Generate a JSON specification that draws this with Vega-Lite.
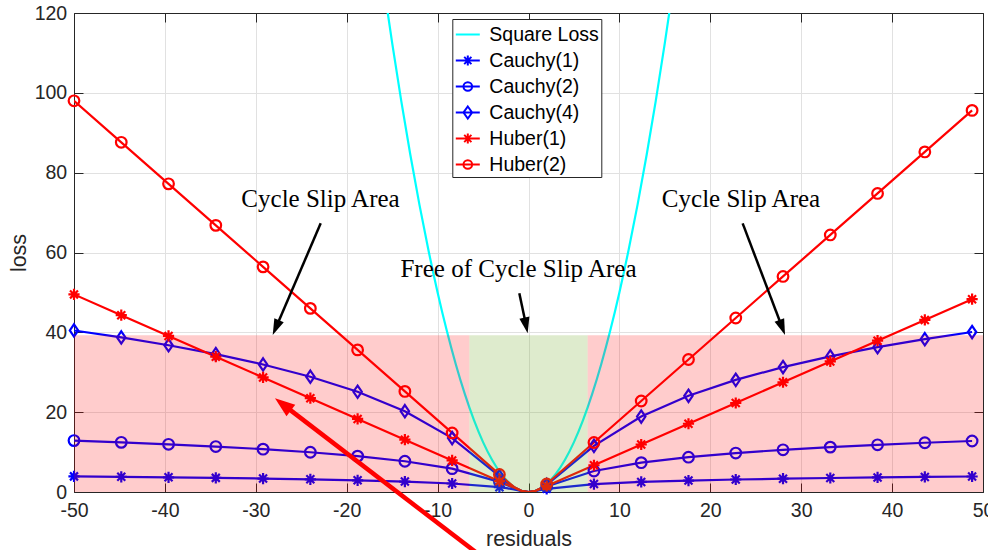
{
  "$schema": "https://vega.github.io/schema/vega-lite/v6.json",
  "autosize": {"type": "none"},
  "width": 909,
  "height": 479,
  "padding": {"left": 74, "top": 13, "right": 5, "bottom": 58},
  "background": "white",
  "datasets": {
    "loss": [
      {"series": "Square Loss", "x": -16, "y": 128, "sampled": false},
      {"series": "Square Loss", "x": -15, "y": 112.5, "sampled": false},
      {"series": "Square Loss", "x": -14, "y": 98, "sampled": false},
      {"series": "Square Loss", "x": -13, "y": 84.5, "sampled": false},
      {"series": "Square Loss", "x": -12, "y": 72, "sampled": false},
      {"series": "Square Loss", "x": -11, "y": 60.5, "sampled": false},
      {"series": "Square Loss", "x": -10, "y": 50, "sampled": false},
      {"series": "Square Loss", "x": -9, "y": 40.5, "sampled": false},
      {"series": "Square Loss", "x": -8, "y": 32, "sampled": false},
      {"series": "Square Loss", "x": -7, "y": 24.5, "sampled": false},
      {"series": "Square Loss", "x": -6, "y": 18, "sampled": false},
      {"series": "Square Loss", "x": -5, "y": 12.5, "sampled": false},
      {"series": "Square Loss", "x": -4, "y": 8, "sampled": false},
      {"series": "Square Loss", "x": -3, "y": 4.5, "sampled": false},
      {"series": "Square Loss", "x": -2, "y": 2, "sampled": false},
      {"series": "Square Loss", "x": -1, "y": 0.5, "sampled": false},
      {"series": "Square Loss", "x": 0, "y": 0, "sampled": false},
      {"series": "Square Loss", "x": 1, "y": 0.5, "sampled": false},
      {"series": "Square Loss", "x": 2, "y": 2, "sampled": false},
      {"series": "Square Loss", "x": 3, "y": 4.5, "sampled": false},
      {"series": "Square Loss", "x": 4, "y": 8, "sampled": false},
      {"series": "Square Loss", "x": 5, "y": 12.5, "sampled": false},
      {"series": "Square Loss", "x": 6, "y": 18, "sampled": false},
      {"series": "Square Loss", "x": 7, "y": 24.5, "sampled": false},
      {"series": "Square Loss", "x": 8, "y": 32, "sampled": false},
      {"series": "Square Loss", "x": 9, "y": 40.5, "sampled": false},
      {"series": "Square Loss", "x": 10, "y": 50, "sampled": false},
      {"series": "Square Loss", "x": 11, "y": 60.5, "sampled": false},
      {"series": "Square Loss", "x": 12, "y": 72, "sampled": false},
      {"series": "Square Loss", "x": 13, "y": 84.5, "sampled": false},
      {"series": "Square Loss", "x": 14, "y": 98, "sampled": false},
      {"series": "Square Loss", "x": 15, "y": 112.5, "sampled": false},
      {"series": "Square Loss", "x": 16, "y": 128, "sampled": false},

      {"series": "Cauchy(1)", "x": -50, "y": 3.912, "sampled": true},
      {"series": "Cauchy(1)", "x": -44.8, "y": 3.802, "sampled": true},
      {"series": "Cauchy(1)", "x": -39.6, "y": 3.679, "sampled": true},
      {"series": "Cauchy(1)", "x": -34.4, "y": 3.538, "sampled": true},
      {"series": "Cauchy(1)", "x": -29.2, "y": 3.375, "sampled": true},
      {"series": "Cauchy(1)", "x": -24, "y": 3.179, "sampled": true},
      {"series": "Cauchy(1)", "x": -18.8, "y": 2.935, "sampled": true},
      {"series": "Cauchy(1)", "x": -13.6, "y": 2.613, "sampled": true},
      {"series": "Cauchy(1)", "x": -8.4, "y": 2.135, "sampled": true},
      {"series": "Cauchy(1)", "x": -3.2, "y": 1.21, "sampled": true},
      {"series": "Cauchy(1)", "x": -2.4, "y": 0.956, "sampled": false},
      {"series": "Cauchy(1)", "x": -1.6, "y": 0.635, "sampled": false},
      {"series": "Cauchy(1)", "x": -0.8, "y": 0.247, "sampled": false},
      {"series": "Cauchy(1)", "x": 0, "y": 0, "sampled": false},
      {"series": "Cauchy(1)", "x": 0.8, "y": 0.247, "sampled": false},
      {"series": "Cauchy(1)", "x": 1.6, "y": 0.635, "sampled": false},
      {"series": "Cauchy(1)", "x": 2, "y": 0.805, "sampled": true},
      {"series": "Cauchy(1)", "x": 7.2, "y": 1.984, "sampled": true},
      {"series": "Cauchy(1)", "x": 12.4, "y": 2.521, "sampled": true},
      {"series": "Cauchy(1)", "x": 17.6, "y": 2.87, "sampled": true},
      {"series": "Cauchy(1)", "x": 22.8, "y": 3.128, "sampled": true},
      {"series": "Cauchy(1)", "x": 28, "y": 3.333, "sampled": true},
      {"series": "Cauchy(1)", "x": 33.2, "y": 3.503, "sampled": true},
      {"series": "Cauchy(1)", "x": 38.4, "y": 3.648, "sampled": true},
      {"series": "Cauchy(1)", "x": 43.6, "y": 3.775, "sampled": true},
      {"series": "Cauchy(1)", "x": 48.8, "y": 3.888, "sampled": true},

      {"series": "Cauchy(2)", "x": -50, "y": 12.879, "sampled": true},
      {"series": "Cauchy(2)", "x": -44.8, "y": 12.44, "sampled": true},
      {"series": "Cauchy(2)", "x": -39.6, "y": 11.948, "sampled": true},
      {"series": "Cauchy(2)", "x": -34.4, "y": 11.386, "sampled": true},
      {"series": "Cauchy(2)", "x": -29.2, "y": 10.733, "sampled": true},
      {"series": "Cauchy(2)", "x": -24, "y": 9.953, "sampled": true},
      {"series": "Cauchy(2)", "x": -18.8, "y": 8.985, "sampled": true},
      {"series": "Cauchy(2)", "x": -13.6, "y": 7.71, "sampled": true},
      {"series": "Cauchy(2)", "x": -8.4, "y": 5.851, "sampled": true},
      {"series": "Cauchy(2)", "x": -3.2, "y": 2.54, "sampled": true},
      {"series": "Cauchy(2)", "x": -2.4, "y": 1.784, "sampled": false},
      {"series": "Cauchy(2)", "x": -1.6, "y": 0.989, "sampled": false},
      {"series": "Cauchy(2)", "x": -0.8, "y": 0.297, "sampled": false},
      {"series": "Cauchy(2)", "x": 0, "y": 0, "sampled": false},
      {"series": "Cauchy(2)", "x": 0.8, "y": 0.297, "sampled": false},
      {"series": "Cauchy(2)", "x": 1.6, "y": 0.989, "sampled": false},
      {"series": "Cauchy(2)", "x": 2, "y": 1.386, "sampled": true},
      {"series": "Cauchy(2)", "x": 7.2, "y": 5.272, "sampled": true},
      {"series": "Cauchy(2)", "x": 12.4, "y": 7.35, "sampled": true},
      {"series": "Cauchy(2)", "x": 17.6, "y": 8.725, "sampled": true},
      {"series": "Cauchy(2)", "x": 22.8, "y": 9.75, "sampled": true},
      {"series": "Cauchy(2)", "x": 28, "y": 10.566, "sampled": true},
      {"series": "Cauchy(2)", "x": 33.2, "y": 11.245, "sampled": true},
      {"series": "Cauchy(2)", "x": 38.4, "y": 11.825, "sampled": true},
      {"series": "Cauchy(2)", "x": 43.6, "y": 12.332, "sampled": true},
      {"series": "Cauchy(2)", "x": 48.8, "y": 12.782, "sampled": true},

      {"series": "Cauchy(4)", "x": -50, "y": 40.463, "sampled": true},
      {"series": "Cauchy(4)", "x": -44.8, "y": 38.718, "sampled": true},
      {"series": "Cauchy(4)", "x": -39.6, "y": 36.762, "sampled": true},
      {"series": "Cauchy(4)", "x": -34.4, "y": 34.536, "sampled": true},
      {"series": "Cauchy(4)", "x": -29.2, "y": 31.955, "sampled": true},
      {"series": "Cauchy(4)", "x": -24, "y": 28.887, "sampled": true},
      {"series": "Cauchy(4)", "x": -18.8, "y": 25.115, "sampled": true},
      {"series": "Cauchy(4)", "x": -13.6, "y": 20.244, "sampled": true},
      {"series": "Cauchy(4)", "x": -8.4, "y": 13.506, "sampled": true},
      {"series": "Cauchy(4)", "x": -3.2, "y": 3.958, "sampled": true},
      {"series": "Cauchy(4)", "x": -2.4, "y": 2.46, "sampled": false},
      {"series": "Cauchy(4)", "x": -1.6, "y": 1.187, "sampled": false},
      {"series": "Cauchy(4)", "x": -0.8, "y": 0.314, "sampled": false},
      {"series": "Cauchy(4)", "x": 0, "y": 0, "sampled": false},
      {"series": "Cauchy(4)", "x": 0.8, "y": 0.314, "sampled": false},
      {"series": "Cauchy(4)", "x": 1.6, "y": 1.187, "sampled": false},
      {"series": "Cauchy(4)", "x": 2, "y": 1.785, "sampled": true},
      {"series": "Cauchy(4)", "x": 7.2, "y": 11.557, "sampled": true},
      {"series": "Cauchy(4)", "x": 12.4, "y": 18.894, "sampled": true},
      {"series": "Cauchy(4)", "x": 17.6, "y": 24.109, "sampled": true},
      {"series": "Cauchy(4)", "x": 22.8, "y": 28.09, "sampled": true},
      {"series": "Cauchy(4)", "x": 28, "y": 31.296, "sampled": true},
      {"series": "Cauchy(4)", "x": 33.2, "y": 33.975, "sampled": true},
      {"series": "Cauchy(4)", "x": 38.4, "y": 36.275, "sampled": true},
      {"series": "Cauchy(4)", "x": 43.6, "y": 38.287, "sampled": true},
      {"series": "Cauchy(4)", "x": 48.8, "y": 40.077, "sampled": true},

      {"series": "Huber(1)", "x": -50, "y": 49.5, "sampled": true},
      {"series": "Huber(1)", "x": -44.8, "y": 44.3, "sampled": true},
      {"series": "Huber(1)", "x": -39.6, "y": 39.1, "sampled": true},
      {"series": "Huber(1)", "x": -34.4, "y": 33.9, "sampled": true},
      {"series": "Huber(1)", "x": -29.2, "y": 28.7, "sampled": true},
      {"series": "Huber(1)", "x": -24, "y": 23.5, "sampled": true},
      {"series": "Huber(1)", "x": -18.8, "y": 18.3, "sampled": true},
      {"series": "Huber(1)", "x": -13.6, "y": 13.1, "sampled": true},
      {"series": "Huber(1)", "x": -8.4, "y": 7.9, "sampled": true},
      {"series": "Huber(1)", "x": -3.2, "y": 2.7, "sampled": true},
      {"series": "Huber(1)", "x": -2.4, "y": 1.9, "sampled": false},
      {"series": "Huber(1)", "x": -1.6, "y": 1.1, "sampled": false},
      {"series": "Huber(1)", "x": -0.8, "y": 0.32, "sampled": false},
      {"series": "Huber(1)", "x": 0, "y": 0, "sampled": false},
      {"series": "Huber(1)", "x": 0.8, "y": 0.32, "sampled": false},
      {"series": "Huber(1)", "x": 1.6, "y": 1.1, "sampled": false},
      {"series": "Huber(1)", "x": 2, "y": 1.5, "sampled": true},
      {"series": "Huber(1)", "x": 7.2, "y": 6.7, "sampled": true},
      {"series": "Huber(1)", "x": 12.4, "y": 11.9, "sampled": true},
      {"series": "Huber(1)", "x": 17.6, "y": 17.1, "sampled": true},
      {"series": "Huber(1)", "x": 22.8, "y": 22.3, "sampled": true},
      {"series": "Huber(1)", "x": 28, "y": 27.5, "sampled": true},
      {"series": "Huber(1)", "x": 33.2, "y": 32.7, "sampled": true},
      {"series": "Huber(1)", "x": 38.4, "y": 37.9, "sampled": true},
      {"series": "Huber(1)", "x": 43.6, "y": 43.1, "sampled": true},
      {"series": "Huber(1)", "x": 48.8, "y": 48.3, "sampled": true},

      {"series": "Huber(2)", "x": -50, "y": 98, "sampled": true},
      {"series": "Huber(2)", "x": -44.8, "y": 87.6, "sampled": true},
      {"series": "Huber(2)", "x": -39.6, "y": 77.2, "sampled": true},
      {"series": "Huber(2)", "x": -34.4, "y": 66.8, "sampled": true},
      {"series": "Huber(2)", "x": -29.2, "y": 56.4, "sampled": true},
      {"series": "Huber(2)", "x": -24, "y": 46, "sampled": true},
      {"series": "Huber(2)", "x": -18.8, "y": 35.6, "sampled": true},
      {"series": "Huber(2)", "x": -13.6, "y": 25.2, "sampled": true},
      {"series": "Huber(2)", "x": -8.4, "y": 14.8, "sampled": true},
      {"series": "Huber(2)", "x": -3.2, "y": 4.4, "sampled": true},
      {"series": "Huber(2)", "x": -2.4, "y": 2.8, "sampled": false},
      {"series": "Huber(2)", "x": -1.6, "y": 1.28, "sampled": false},
      {"series": "Huber(2)", "x": -0.8, "y": 0.32, "sampled": false},
      {"series": "Huber(2)", "x": 0, "y": 0, "sampled": false},
      {"series": "Huber(2)", "x": 0.8, "y": 0.32, "sampled": false},
      {"series": "Huber(2)", "x": 1.6, "y": 1.28, "sampled": false},
      {"series": "Huber(2)", "x": 2, "y": 2, "sampled": true},
      {"series": "Huber(2)", "x": 7.2, "y": 12.4, "sampled": true},
      {"series": "Huber(2)", "x": 12.4, "y": 22.8, "sampled": true},
      {"series": "Huber(2)", "x": 17.6, "y": 33.2, "sampled": true},
      {"series": "Huber(2)", "x": 22.8, "y": 43.6, "sampled": true},
      {"series": "Huber(2)", "x": 28, "y": 54, "sampled": true},
      {"series": "Huber(2)", "x": 33.2, "y": 64.4, "sampled": true},
      {"series": "Huber(2)", "x": 38.4, "y": 74.8, "sampled": true},
      {"series": "Huber(2)", "x": 43.6, "y": 85.2, "sampled": true},
      {"series": "Huber(2)", "x": 48.8, "y": 95.6, "sampled": true}
    ],
    "zones": [
      {"zone": "slip", "x": -50, "x2": -6.5, "y": 0, "y2": 39.3},
      {"zone": "free", "x": -6.5, "x2": 6.5, "y": 0, "y2": 39.3},
      {"zone": "slip", "x": 6.5, "x2": 50, "y": 0, "y2": 39.3}
    ],
    "arrows": [
      {"id": "a1", "x": -22.86, "y": 67.3, "x2": -27.79, "y2": 41.17, "tx": -28.14, "ty": 39.33},
      {"id": "a2", "x": 23.56, "y": 67.3, "x2": 27.91, "y2": 41.2, "tx": 28.22, "ty": 39.33},
      {"id": "a3", "x": -1.01, "y": 49.78, "x2": -0.26, "y2": 41.71, "tx": -0.09, "ty": 39.76},
      {"id": "r", "x": -4.69, "y": -17, "x2": -27.02, "y2": 21.95, "tx": -27.89, "ty": 23.47}
    ],
    "notes": [
      {"label": "Cycle Slip Area", "x": -22.88, "y": 71.4},
      {"label": "Cycle Slip Area", "x": 23.38, "y": 71.4},
      {"label": "Free of Cycle Slip Area", "x": -1.1, "y": 53.86}
    ]
  },
  "resolve": {"axis": {"x": "independent", "y": "independent"}},
  "layer": [
    {
      "layer": [
        {
          "data": {"name": "loss"},
          "transform": [{"filter": "datum.series === 'Square Loss'"}],
          "mark": {"type": "line", "clip": true, "strokeWidth": 2.2, "interpolate": "monotone"},
          "encoding": {
            "x": {"field": "x", "type": "quantitative",
              "scale": {"domain": [-50, 50], "nice": false, "zero": false},
              "axis": {"orient": "bottom", "values": [-50, -40, -30, -20, -10, 0, 10, 20, 30, 40, 50],
                "labelExpr": "'' + datum.value", "labelFlush": false, "labelOverlap": false,
                "title": "residuals", "grid": true, "tickSize": -9, "labelPadding": 18.3,
                "titleX": 454.5, "titleY": 53, "titleBaseline": "alphabetic"}},
            "y": {"field": "y", "type": "quantitative",
              "scale": {"domain": [0, 120], "nice": false, "zero": false},
              "axis": {"orient": "left", "values": [0, 20, 40, 60, 80, 100, 120],
                "labelExpr": "'' + datum.value", "labelOverlap": false,
                "title": "loss", "grid": true, "tickSize": -9, "labelPadding": 16.3,
                "titleX": -48.3, "titleY": 239.5, "titleBaseline": "alphabetic", "titleAngle": 270}},
            "color": {"field": "series", "type": "nominal",
              "scale": {"domain": ["Square Loss", "Cauchy(1)", "Cauchy(2)", "Cauchy(4)", "Huber(1)", "Huber(2)"],
                "range": ["#00FFFF", "#0000FF", "#0000FF", "#0000FF", "#FF0000", "#FF0000"]},
              "legend": {"title": null}}
          }
        },
        {
          "data": {"name": "loss"},
          "transform": [{"filter": "datum.series !== 'Square Loss'"}],
          "mark": {"type": "line", "clip": true, "strokeWidth": 2.2},
          "encoding": {
            "x": {"field": "x", "type": "quantitative"},
            "y": {"field": "y", "type": "quantitative"},
            "color": {"field": "series", "type": "nominal", "legend": {"title": null}}
          }
        },
        {
          "data": {"name": "loss"},
          "transform": [{"filter": "datum.sampled && datum.series === 'Cauchy(1)'"}],
          "mark": {"type": "point", "filled": false, "opacity": 1, "strokeWidth": 2.2, "size": 196,
            "shape": "M-0.8,0L0.8,0M0,-0.8L0,0.8M-0.57,-0.57L0.57,0.57M-0.57,0.57L0.57,-0.57"},
          "encoding": {
            "x": {"field": "x", "type": "quantitative"},
            "y": {"field": "y", "type": "quantitative"},
            "color": {"field": "series", "type": "nominal", "legend": {"title": null}}
          }
        },
        {
          "data": {"name": "loss"},
          "transform": [{"filter": "datum.sampled && datum.series === 'Cauchy(2)'"}],
          "mark": {"type": "point", "filled": false, "opacity": 1, "strokeWidth": 2.2, "size": 196,
            "shape": "M0.76,0A0.76,0.76,0,1,1,-0.76,0A0.76,0.76,0,1,1,0.76,0Z"},
          "encoding": {
            "x": {"field": "x", "type": "quantitative"},
            "y": {"field": "y", "type": "quantitative"},
            "color": {"field": "series", "type": "nominal", "legend": {"title": null}}
          }
        },
        {
          "data": {"name": "loss"},
          "transform": [{"filter": "datum.sampled && datum.series === 'Cauchy(4)'"}],
          "mark": {"type": "point", "filled": false, "opacity": 1, "strokeWidth": 2.2, "size": 196,
            "shape": "M0,-0.88L0.6,0L0,0.88L-0.6,0Z"},
          "encoding": {
            "x": {"field": "x", "type": "quantitative"},
            "y": {"field": "y", "type": "quantitative"},
            "color": {"field": "series", "type": "nominal", "legend": {"title": null}}
          }
        },
        {
          "data": {"name": "loss"},
          "transform": [{"filter": "datum.sampled && datum.series === 'Huber(1)'"}],
          "mark": {"type": "point", "filled": false, "opacity": 1, "strokeWidth": 2.2, "size": 196,
            "shape": "M-0.8,0L0.8,0M0,-0.8L0,0.8M-0.57,-0.57L0.57,0.57M-0.57,0.57L0.57,-0.57"},
          "encoding": {
            "x": {"field": "x", "type": "quantitative"},
            "y": {"field": "y", "type": "quantitative"},
            "color": {"field": "series", "type": "nominal", "legend": {"title": null}}
          }
        },
        {
          "data": {"name": "loss"},
          "transform": [{"filter": "datum.sampled && datum.series === 'Huber(2)'"}],
          "mark": {"type": "point", "filled": false, "opacity": 1, "strokeWidth": 2.2, "size": 196,
            "shape": "M0.76,0A0.76,0.76,0,1,1,-0.76,0A0.76,0.76,0,1,1,0.76,0Z"},
          "encoding": {
            "x": {"field": "x", "type": "quantitative"},
            "y": {"field": "y", "type": "quantitative"},
            "color": {"field": "series", "type": "nominal", "legend": {"title": null}}
          }
        },
        {
          "data": {"name": "loss"},
          "transform": [{"filter": "datum.x > 1000"}],
          "mark": {"type": "point", "filled": false, "opacity": 1, "strokeWidth": 2},
          "encoding": {
            "x": {"field": "x", "type": "quantitative"},
            "y": {"field": "y", "type": "quantitative"},
            "color": {"field": "series", "type": "nominal", "legend": {"title": null}},
            "shape": {"field": "series", "type": "nominal",
              "scale": {"domain": ["Square Loss", "Cauchy(1)", "Cauchy(2)", "Cauchy(4)", "Huber(1)", "Huber(2)"],
                "range": [
                  "M-1,0L1,0",
                  "M-1,0L1,0M0,-0.42L0,0.42M-0.3,-0.3L0.3,0.3M-0.3,0.3L0.3,-0.3",
                  "M-1,0L1,0M0.36,0A0.36,0.36,0,1,1,-0.36,0A0.36,0.36,0,1,1,0.36,0Z",
                  "M-1,0L1,0M0,-0.5L0.36,0L0,0.5L-0.36,0Z",
                  "M-1,0L1,0M0,-0.42L0,0.42M-0.3,-0.3L0.3,0.3M-0.3,0.3L0.3,-0.3",
                  "M-1,0L1,0M0.36,0A0.36,0.36,0,1,1,-0.36,0A0.36,0.36,0,1,1,0.36,0Z"
                ]},
              "legend": {"title": null}}
          }
        },
        {
          "data": {"name": "arrows"},
          "transform": [{"filter": "datum.id !== 'r'"}],
          "mark": {"type": "rule", "color": "black", "strokeWidth": 2.5, "clip": false},
          "encoding": {
            "x": {"field": "x", "type": "quantitative"},
            "y": {"field": "y", "type": "quantitative"},
            "x2": {"field": "x2"},
            "y2": {"field": "y2"}
          }
        },
        {
          "data": {"name": "arrows"},
          "transform": [{"filter": "datum.id === 'r'"}],
          "mark": {"type": "rule", "color": "#FF0000", "strokeWidth": 4.5, "clip": false},
          "encoding": {
            "x": {"field": "x", "type": "quantitative"},
            "y": {"field": "y", "type": "quantitative"},
            "x2": {"field": "x2"},
            "y2": {"field": "y2"}
          }
        },
        {
          "data": {"name": "arrows"},
          "transform": [{"filter": "datum.id === 'a1'"}],
          "mark": {"type": "point", "shape": "M0,0L-0.32,1L0.32,1Z", "size": 1024, "angle": 203.3,
            "filled": true, "color": "black", "opacity": 1, "strokeWidth": 0, "clip": false},
          "encoding": {
            "x": {"field": "tx", "type": "quantitative"},
            "y": {"field": "ty", "type": "quantitative"}
          }
        },
        {
          "data": {"name": "arrows"},
          "transform": [{"filter": "datum.id === 'a2'"}],
          "mark": {"type": "point", "shape": "M0,0L-0.32,1L0.32,1Z", "size": 1024, "angle": 159.3,
            "filled": true, "color": "black", "opacity": 1, "strokeWidth": 0, "clip": false},
          "encoding": {
            "x": {"field": "tx", "type": "quantitative"},
            "y": {"field": "ty", "type": "quantitative"}
          }
        },
        {
          "data": {"name": "arrows"},
          "transform": [{"filter": "datum.id === 'a3'"}],
          "mark": {"type": "point", "shape": "M0,0L-0.32,1L0.32,1Z", "size": 1024, "angle": 168.2,
            "filled": true, "color": "black", "opacity": 1, "strokeWidth": 0, "clip": false},
          "encoding": {
            "x": {"field": "tx", "type": "quantitative"},
            "y": {"field": "ty", "type": "quantitative"}
          }
        },
        {
          "data": {"name": "arrows"},
          "transform": [{"filter": "datum.id === 'r'"}],
          "mark": {"type": "point", "shape": "M0,0L-0.36,1L0.36,1Z", "size": 1600, "angle": 307.4,
            "filled": true, "color": "#FF0000", "opacity": 1, "strokeWidth": 0, "clip": false},
          "encoding": {
            "x": {"field": "tx", "type": "quantitative"},
            "y": {"field": "ty", "type": "quantitative"}
          }
        },
        {
          "data": {"name": "notes"},
          "mark": {"type": "text", "font": "Liberation Serif", "fontSize": 25, "align": "center",
            "baseline": "alphabetic", "color": "black"},
          "encoding": {
            "x": {"field": "x", "type": "quantitative"},
            "y": {"field": "y", "type": "quantitative"},
            "text": {"field": "label"}
          }
        }
      ]
    },
    {
      "data": {"name": "zones"},
      "layer": [
        {
          "transform": [{"filter": "datum.zone === 'slip'"}],
          "mark": {"type": "rect", "color": "#FF0000", "opacity": 0.2},
          "encoding": {
            "x": {"field": "x", "type": "quantitative",
              "axis": {"orient": "top", "values": [-50, -40, -30, -20, -10, 0, 10, 20, 30, 40, 50],
                "labels": false, "title": null, "grid": false, "tickSize": -9}},
            "x2": {"field": "x2"},
            "y": {"field": "y", "type": "quantitative",
              "axis": {"orient": "right", "values": [0, 20, 40, 60, 80, 100, 120],
                "labels": false, "title": null, "grid": false, "tickSize": -9}},
            "y2": {"field": "y2"}
          }
        },
        {
          "transform": [{"filter": "datum.zone === 'free'"}],
          "mark": {"type": "rect", "color": "#77AC30", "opacity": 0.24},
          "encoding": {
            "x": {"field": "x", "type": "quantitative"},
            "x2": {"field": "x2"},
            "y": {"field": "y", "type": "quantitative"},
            "y2": {"field": "y2"}
          }
        }
      ]
    }
  ],
  "config": {
    "view": {"stroke": null},
    "font": "Liberation Sans",
    "axis": {
      "labelFont": "Liberation Sans", "labelFontSize": 19.5, "labelColor": "#262626",
      "titleFont": "Liberation Sans", "titleFontSize": 21.5, "titleFontWeight": "normal", "titleColor": "#262626",
      "domainColor": "#262626", "domainWidth": 1, "tickColor": "#262626", "tickWidth": 1,
      "gridColor": "#e1e1e1", "gridWidth": 1
    },
    "legend": {
      "orient": "none", "legendX": 378.3, "legendY": 6, "padding": 2.5,
      "fillColor": "white", "strokeColor": "#262626", "symbolSize": 576, "symbolStrokeWidth": 2,
      "labelFont": "Liberation Sans", "labelFontSize": 19.5, "labelColor": "black",
      "labelOffset": 8.5, "rowPadding": 3, "labelLimit": 300
    }
  }
}
